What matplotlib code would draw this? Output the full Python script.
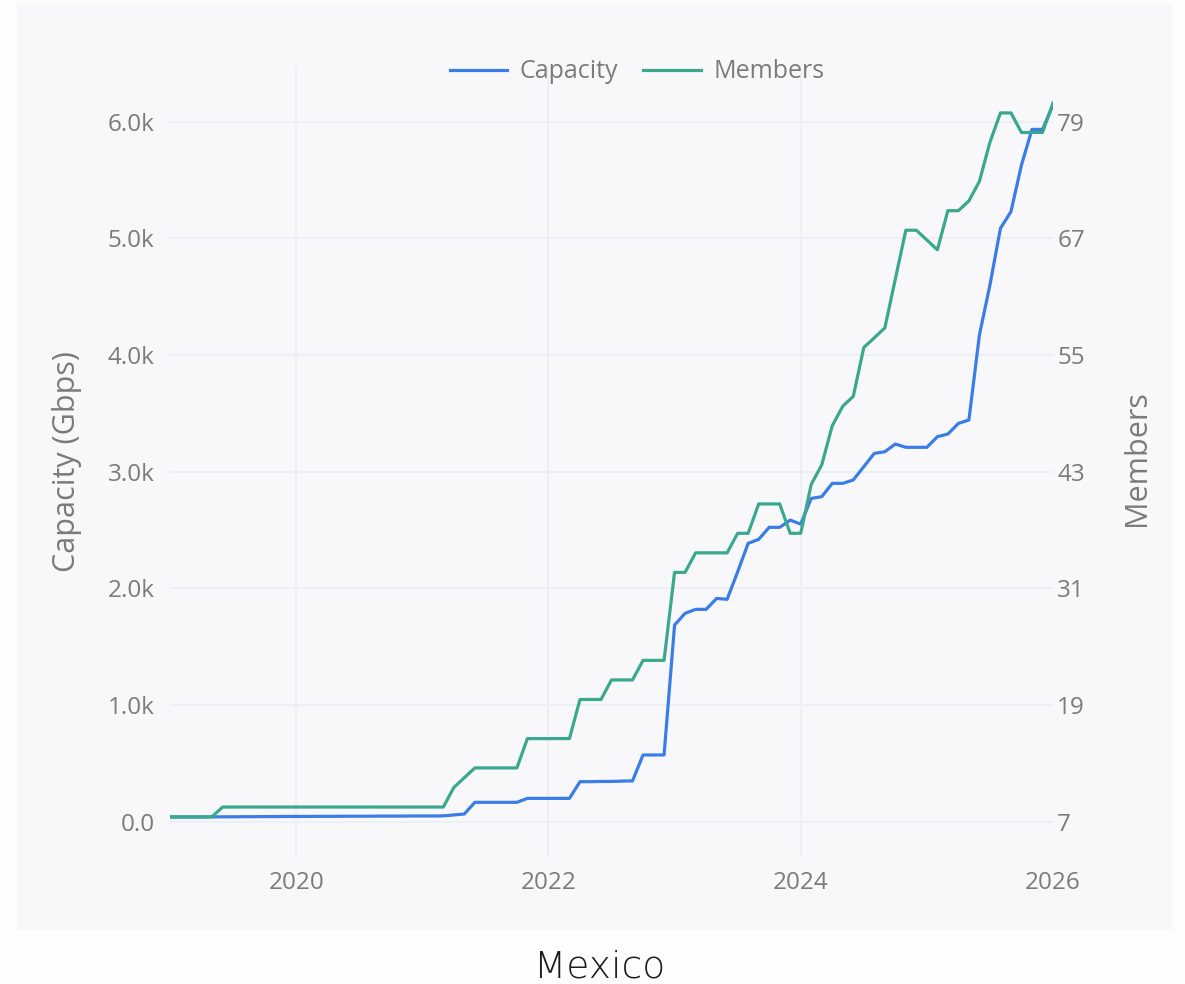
import matplotlib
matplotlib.use("Agg")
import matplotlib.pyplot as plt
import matplotlib.patches as mpatches
import numpy as np

# ---- data (monthly, Jan 2019 .. Jan 2026) ----
start_year = 2019
capacity = [40, 40, 40, 40, 41, 42, 42, 43, 43, 44, 44, 45,
            45, 45, 46, 46, 46, 47, 47, 47, 48, 48, 48, 49,
            49, 49, 50, 58, 66, 166, 166, 166, 166, 166, 200, 200,
            200, 200, 200, 343, 343, 345, 345, 348, 350, 572, 572, 572,
            1686, 1786, 1820, 1820, 1914, 1906, 2142, 2386, 2420, 2523, 2523, 2585,
            2551, 2771, 2786, 2900, 2900, 2929, 3043, 3157, 3171, 3237, 3209, 3209,
            3209, 3300, 3323, 3414, 3443, 4172, 4600, 5086, 5229, 5629, 5934, 5934,
            6143]
members = [8, 8, 8, 8, 8, 9, 9, 9, 9, 9, 9, 9,
           9, 9, 9, 9, 9, 9, 9, 9, 9, 9, 9, 9,
           9, 9, 9, 11, 12, 13, 13, 13, 13, 13, 16, 16,
           16, 16, 16, 20, 20, 20, 22, 22, 22, 24, 24, 24,
           33, 33, 35, 35, 35, 35, 37, 37, 40, 40, 40, 37,
           37, 42, 44, 48, 50, 51, 56, 57, 58, 63, 68, 68,
           67, 66, 70, 70, 71, 73, 77, 80, 80, 78, 78, 78,
           81]
x_ticks = [2020, 2022, 2024, 2026]
cap_ticks = [0, 1000, 2000, 3000, 4000, 5000, 6000]
cap_tick_labels = ["0.0", "1.0k", "2.0k", "3.0k", "4.0k", "5.0k", "6.0k"]
mem_tick_labels = ["7", "19", "31", "43", "55", "67", "79"]
title = "Mexico"

years = start_year + np.arange(len(capacity)) / 12.0

W, H = 1185, 984
fig = plt.figure(figsize=(W / 100, H / 100), dpi=100, facecolor="#fdfdfc")

# panel background
fig.patches.append(mpatches.Rectangle((17 / W, 1 - 930 / H), (1172 - 17) / W, 927 / H,
                                      transform=fig.transFigure, facecolor="#f8f8fa",
                                      edgecolor="none", zorder=-10))

ax_l, ax_r = 170 / W, 1053 / W
ax_top, ax_bot = 66, 857
ax = fig.add_axes([ax_l, 1 - ax_bot / H, ax_r - ax_l, (ax_bot - ax_top) / H])
ax.set_facecolor("none")
ax.set_zorder(1)

# left y range: 0 at px 821.7, 6000 at px 121.7
ppk = (821.7 - 121.7) / 6000.0
ylo = -(ax_bot - 821.7) / ppk
yhi = 6000 + (121.7 - ax_top) / ppk
ax.set_ylim(ylo, yhi)
ax.set_xlim(2019, 2026)

ax2 = ax.twinx()
ax2.set_zorder(2)
ax2.set_facecolor("none")
m_lo, m_hi = 7.5, 79.1
mpp = (m_hi - m_lo) / 700.0
ax2.set_ylim(m_lo - (ax_bot - 821.7) * mpp, m_hi + (121.7 - ax_top) * mpp)

grid_c = "#ebeff6"
for t in cap_ticks:
    ax.axhline(t, color=grid_c, lw=1.3, zorder=1)
for t in x_ticks[:-1]:
    ax.axvline(t, color=grid_c, lw=1.3, zorder=1)

blue = "#3a7de6"
teal = "#3aa88f"
l1, = ax.plot(years, capacity, color=blue, lw=2.3, zorder=3, label="Capacity")
l2, = ax2.plot(years, members, color=teal, lw=2.3, zorder=3, label="Members")

font = "Open Sans"
tc = "#7b7b7b"
fs = 17.5
ax.set_xticks(x_ticks)
ax.set_xticklabels([str(x) for x in x_ticks], fontsize=fs, color=tc, family=font)
ax.set_yticks(cap_ticks)
ax.set_yticklabels(cap_tick_labels, fontsize=fs, color=tc, family=font)
ax2.set_yticks(np.linspace(m_lo, m_hi, 7))
ax2.set_yticklabels(mem_tick_labels, fontsize=fs, color=tc, family=font)
ax.tick_params(axis="x", length=0, pad=10)
ax.tick_params(axis="y", length=0, pad=11)
ax2.tick_params(axis="y", length=0, pad=3)
for a in (ax, ax2):
    for s in a.spines.values():
        s.set_visible(False)

fig.text(67 / W, 1 - 462 / H, "Capacity (Gbps)", rotation=90, ha="center", va="center",
         fontsize=22, color=tc, family=font)
fig.text(1137 / W, 1 - 458 / H, "Members", rotation=90, ha="center", va="center",
         fontsize=22, color=tc, family=font)

leg = fig.legend([l1, l2], ["Capacity", "Members"], loc="center", ncol=2,
                 bbox_to_anchor=(637 / W, 1 - 72 / H), frameon=False,
                 prop={"family": font, "size": 18}, handlelength=2.3,
                 columnspacing=1.0, handletextpad=0.5)
for t in leg.get_texts():
    t.set_color(tc)

fig.text(600 / W, 1 - 967 / H, title, ha="center", va="center", fontsize=27,
         color="#1a1a1a", family="DejaVu Sans", fontweight="light")

fig.savefig("out.png", dpi=100, facecolor=fig.get_facecolor())
